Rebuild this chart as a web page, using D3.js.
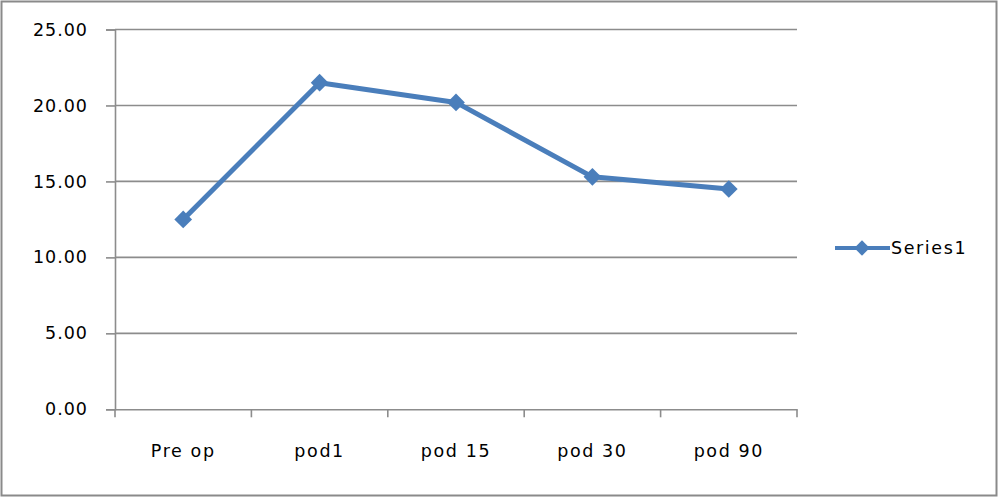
<!DOCTYPE html>
<html><head><meta charset="utf-8">
<script src="https://cdn.jsdelivr.net/npm/d3@7"></script>
<style>html,body{margin:0;padding:0;background:#fff;}svg{display:block;}</style>
</head><body>
<script>
const categories = ["Pre op", "pod1", "pod 15", "pod 30", "pod 90"];
const series1 = [12.5, 21.5, 20.2, 15.3, 14.5];
const yTicks = [0, 5, 10, 15, 20, 25];
const seriesName = "Series1";

(function () {
const W = 1000, H = 498;
const svg = d3.select("body").append("svg").attr("width", W).attr("height", H);
svg.append("rect").attr("x", 1.5).attr("y", 1.5).attr("width", 995).attr("height", 494)
  .attr("fill", "#fff").attr("stroke", "#8a8a8a").attr("stroke-width", 2);

const pLeft = 115, pRight = 797, pTop = 29.5, pBottom = 409.3;
const x = d3.scaleBand().domain(categories).range([pLeft, pRight]).paddingInner(0).paddingOuter(0);
const y = d3.scaleLinear().domain([0, 25]).range([pBottom, pTop]);
const font = "'DejaVu Sans', Verdana, sans-serif";
const grid = "#8c8c8c";

svg.append("g").selectAll("line").data(yTicks.filter(d => d > 0)).join("line")
  .attr("x1", pLeft).attr("x2", pRight).attr("y1", d => y(d)).attr("y2", d => y(d))
  .attr("stroke", grid).attr("stroke-width", 1.6);

const yAxis = svg.append("g").attr("transform", `translate(${pLeft},0)`)
  .call(d3.axisLeft(y).tickValues(yTicks).tickFormat(d3.format(".2f")).tickSize(9).tickPadding(18));
yAxis.select(".domain").attr("stroke", grid).attr("stroke-width", 1.6);
yAxis.selectAll(".tick line").attr("stroke", grid).attr("stroke-width", 1.6);
yAxis.selectAll("text").attr("font-family", font).attr("font-size", 17.5).attr("letter-spacing", 1.0).attr("fill", "#000");

const xAxis = svg.append("g").attr("transform", `translate(0,${pBottom})`)
  .call(d3.axisBottom(x).tickSize(0).tickPadding(35));
xAxis.select(".domain").attr("stroke", grid).attr("stroke-width", 1.6);
xAxis.selectAll("text").attr("font-family", font).attr("font-size", 17.5).attr("letter-spacing", 1.6).attr("fill", "#000");
const bounds = categories.map(c => x(c)).concat([x(categories[categories.length-1]) + x.bandwidth()]);
svg.append("g").selectAll("line").data(bounds).join("line")
  .attr("x1", d => d).attr("x2", d => d).attr("y1", pBottom).attr("y2", pBottom + 8)
  .attr("stroke", grid).attr("stroke-width", 1.6);

const color = "#4a7ebb";
const cx = (c) => x(c) + x.bandwidth() / 2;
const line = d3.line().x((d, i) => cx(categories[i])).y(d => y(d));
svg.append("path").datum(series1).attr("d", line).attr("fill", "none")
  .attr("stroke", color).attr("stroke-width", 5).attr("stroke-linejoin", "round");
const diamond = d3.symbol().type(d3.symbolDiamond2).size(200);
svg.append("g").selectAll("path").data(series1).join("path")
  .attr("d", diamond).attr("transform", (d, i) => `translate(${cx(categories[i])},${y(d)})`)
  .attr("fill", color);

const lg = svg.append("g");
lg.append("line").attr("x1", 835).attr("x2", 890).attr("y1", 248).attr("y2", 248)
  .attr("stroke", color).attr("stroke-width", 4);
lg.append("path").attr("d", d3.symbol().type(d3.symbolDiamond2).size(150)).attr("transform", "translate(862,248)").attr("fill", color);
lg.append("text").attr("x", 891).attr("y", 254).text(seriesName)
  .attr("font-family", font).attr("font-size", 17.5).attr("letter-spacing", 1.6).attr("fill", "#000");
})();
</script>
</body></html>
